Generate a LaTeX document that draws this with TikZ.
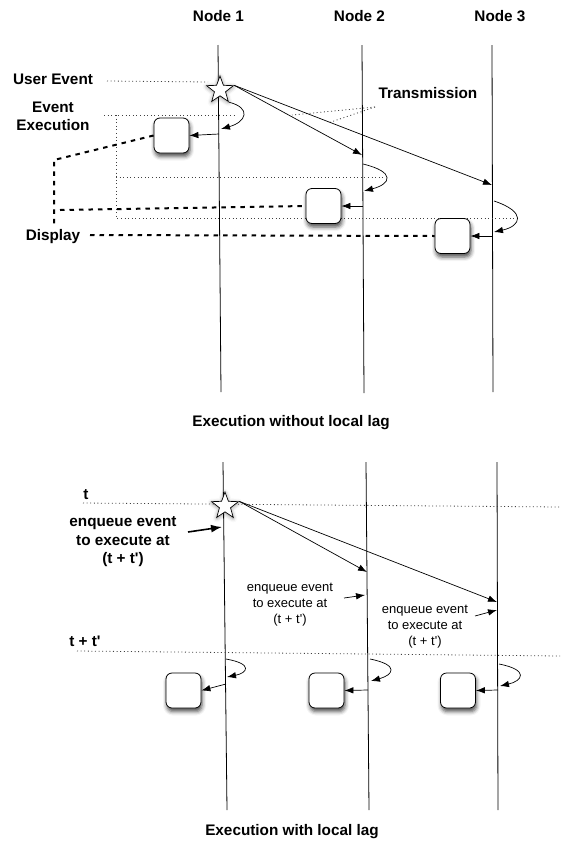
\documentclass[tikz,border=0pt]{standalone}
\usepackage{fontspec}
\setmainfont{Liberation Sans}[Ligatures=TeXOff]
\usetikzlibrary{shapes.geometric,arrows.meta,shadows.blur}
\begin{document}
\begin{tikzpicture}[x=1pt,y=-1pt,
  lifeline/.style={line width=0.8pt},
  msg/.style={line width=0.7pt,-{Latex[length=9pt,width=6.5pt]}},
  guide/.style={black!75,line width=0.8pt,dash pattern=on 1pt off 2.6pt},
  disp/.style={line width=2pt,dash pattern=on 4.5pt off 5pt},
  evbox/.style={draw,fill=white,rounded corners=6pt,minimum size=35pt,inner sep=0pt,line width=0.8pt,
    blur shadow={shadow xshift=1pt,shadow yshift=-3.5pt,shadow blur radius=4pt,shadow opacity=70}},
  evstar/.style={star,star points=5,star point ratio=2.4,minimum size=28pt,inner sep=0pt,draw,fill=white,line width=0.7pt,
    blur shadow={shadow xshift=0pt,shadow yshift=-1pt,shadow blur radius=4pt,shadow opacity=45}},
  big/.style={font=\fontsize{15.3}{18.5}\selectfont\bfseries,inner sep=0pt,align=center},
  small/.style={font=\fontsize{13}{16}\selectfont,inner sep=0pt,align=center}
]
\useasboundingbox (0,0) rectangle (560,841);

% ---------- upper chart: execution without local lag ----------
\node[big] (n1) at (218.5,16) {Node 1};
\node[big] (n2) at (359.5,16) {Node 2};
\node[big] (n3) at (500,16) {Node 3};

\coordinate (a1t) at (218,45);  \coordinate (a1b) at (221,392);
\coordinate (a2t) at (362,45);  \coordinate (a2b) at (364,393);
\coordinate (a3t) at (492,45);  \coordinate (a3b) at (493,392);
\draw[lifeline] (a1t) -- (a1b);
\draw[lifeline] (a2t) -- (a2b);
\draw[lifeline] (a3t) -- (a3b);

\node[big] (ue) at (53,79) {User Event};
\node[big] (ee) at (53,116.5) {Event\\Execution};
\node[big] (tr) at (428,93) {Transmission};
\node[big] (dp) at (53,237) {Display};

% execution guides
\coordinate (u0) at (107,81);   \coordinate (u1) at (208,82);
\coordinate (g0) at (104,115);  \coordinate (g1) at (237,115);
\coordinate (g2) at (116,115);  \coordinate (g3) at (116,218);
\coordinate (g4) at (116,177);  \coordinate (g5) at (383,177);
\coordinate (g6) at (515,218);
\draw[guide] (u0) -- (u1);
\draw[guide] (g0) -- (g1);
\draw[guide] (g2) -- (g3) -- (g6);
\draw[guide] (g4) -- (g5);

% transmission pointers
\coordinate (tp) at (375,107);
\coordinate (tq1) at (292,115);
\coordinate (tq2) at (328,123);
\draw[guide] (tp) -- (tq1);
\draw[guide] (tp) -- (tq2);

% boxes
\node[evbox] (b1) at (171.5,135.5) {};
\node[evbox] (b2) at (323.5,206) {};
\node[evbox] (b3) at (452.5,236) {};

% display paths
\coordinate (d0) at (54,160);  \coordinate (d1) at (54,227);
\coordinate (d2) at (60,210);  \coordinate (d3) at (90,235);
\draw[disp] (b1.west) -- (d0) -- (d1);
\draw[disp] (d2) -- (b2.west);
\draw[disp] (d3) -- (b3.west);

% event star and messages
\node[evstar] (s1) at (220,90) {};
\coordinate (m2) at (362,155);
\coordinate (m3) at (492,185);
\draw[msg] (s1.outer point 5) -- (m2);
\draw[msg] (s1.outer point 5) -- (m3);

% local executions
\coordinate (c1e) at (221,129);
\draw[msg] (s1.outer point 4) .. controls (252,108) and (246,122) .. (c1e);
\coordinate (c2s) at (363,164); \coordinate (c2e) at (364,191);
\draw[msg] (c2s) .. controls (396,172) and (391,184) .. (c2e);
\coordinate (c3s) at (494,201); \coordinate (c3e) at (494,232);
\draw[msg] (c3s) .. controls (527,212) and (521,226) .. (c3e);

\coordinate (r1) at (219,134);
\coordinate (r2) at (363,206);
\coordinate (r3) at (492,236);
\draw[msg] (r1) -- (b1.east);
\draw[msg] (r2) -- (b2.east);
\draw[msg] (r3) -- (b3.east);

\node[big] (cap1) at (291,423) {Execution without local lag};

% ---------- lower chart: execution with local lag ----------
\coordinate (l1t) at (223,462);  \coordinate (l1b) at (227,810);
\coordinate (l2t) at (366,462);  \coordinate (l2b) at (369,810);
\coordinate (l3t) at (497,462);  \coordinate (l3b) at (498,810);
\draw[lifeline] (l1t) -- (l1b);
\draw[lifeline] (l2t) -- (l2b);
\draw[lifeline] (l3t) -- (l3b);

\node[big] (tl) at (86,495) {t};
\node[big] (ttl) at (85,641) {t + t'};
\coordinate (t0) at (83,503);  \coordinate (t1) at (560,507);
\coordinate (tt0) at (77,651); \coordinate (tt1) at (560,656);
\draw[guide] (t0) -- (t1);
\draw[guide] (tt0) -- (tt1);

\node[evstar] (s2) at (225,506) {};
\coordinate (k2) at (367,572);
\coordinate (k3) at (497,602);
\draw[msg] (s2.outer point 5) -- (k2);
\draw[msg] (s2.outer point 5) -- (k3);

\node[big] (q1) at (123,542) {enqueue event\\to execute at\\(t + t')};
\coordinate (q1a) at (188,532); \coordinate (q1b) at (222,527);
\draw[line width=1.6pt,-{Latex[length=11pt,width=8pt]}] (q1a) -- (q1b);

\node[small] (q2) at (290,605) {enqueue event\\to execute at\\(t + t')};
\coordinate (q2a) at (344,598); \coordinate (q2b) at (365,595);
\draw[msg] (q2a) -- (q2b);

\node[small] (q3) at (425,627) {enqueue event\\to execute at\\(t + t')};
\coordinate (q3a) at (475,616); \coordinate (q3b) at (497,610);
\draw[msg] (q3a) -- (q3b);

\node[evbox] (e1) at (183.5,690.5) {};
\node[evbox] (e2) at (326.5,690.5) {};
\node[evbox] (e3) at (458,690.5) {};

\coordinate (f1s) at (226,659); \coordinate (f1e) at (227,677);
\draw[msg] (f1s) .. controls (254,664) and (247,673) .. (f1e);
\coordinate (f2s) at (370,659); \coordinate (f2e) at (371,681);
\draw[msg] (f2s) .. controls (400,665) and (393,675) .. (f2e);
\coordinate (f3s) at (499,664); \coordinate (f3e) at (500,686);
\draw[msg] (f3s) .. controls (530,670) and (522,681) .. (f3e);

\coordinate (h1) at (226,684);
\coordinate (h2) at (368,690);
\coordinate (h3) at (498,690);
\draw[msg] (h1) -- (e1.east);
\draw[msg] (h2) -- (e2.east);
\draw[msg] (h3) -- (e3.east);

\node[big] (cap2) at (292,832) {Execution with local lag};
\end{tikzpicture}
\end{document}
